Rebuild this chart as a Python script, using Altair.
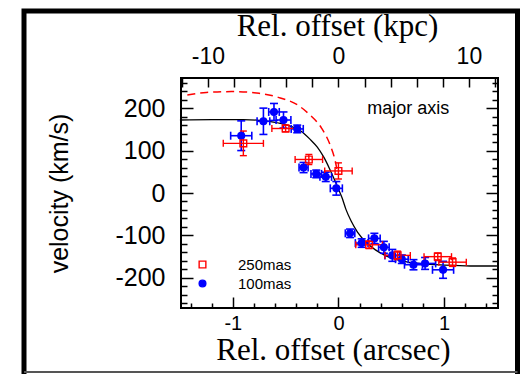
import altair as alt
import pandas as pd

# ---------------- data ----------------
# 100mas (blue filled circles): offset (arcsec), velocity (km/s), errors
b_x    = [-0.92, -0.71, -0.61, -0.52, -0.39, -0.33, -0.21, -0.12, -0.02,
          0.11, 0.22, 0.34, 0.43, 0.51, 0.60, 0.71, 0.82, 0.99]
b_v    = [135, 169, 191, 172, 151, 60, 45, 38, 11,
          -95, -118, -107, -128, -147, -156, -169, -166, -181]
b_xerr = [0.10, 0.06, 0.05, 0.07, 0.057, 0.043, 0.05, 0.055, 0.057,
          0.045, 0.06, 0.055, 0.05, 0.07, 0.06, 0.085, 0.10, 0.10]
b_verr = [35, 31, 20, 19, 9, 12, 9, 11, 16,
          10, 10, 12, 14, 14, 10, 12, 14, 20]

# 250mas (red open squares)
r_x    = [-0.90, -0.50, -0.28, 0.00, 0.29, 0.56, 0.94, 1.08]
r_v    = [117, 152, 79, 52, -122, -147, -150, -163]
r_xerr = [0.19, 0.13, 0.13, 0.13, 0.126, 0.12, 0.13, 0.13]
r_verr = [29, 8, 12, 19, 9, 10, 9, 10]

# model curve (black solid)
m_x = [-1.5, -1.2, -0.9, -0.7, -0.55, -0.45, -0.35, -0.27, -0.2, -0.14, -0.08,
       -0.03, 0.0, 0.035, 0.07, 0.12, 0.18, 0.27, 0.35, 0.45, 0.6, 0.8, 1.0, 1.25, 1.5]
m_v = [172, 173, 173, 170, 164, 157, 145, 127, 108, 85, 55,
       27, 9, -12, -38, -66, -92, -118, -134, -148, -160, -167, -170, -172, -172]

# red dashed curve
d_x = [-1.43, -1.25, -1.0, -0.75, -0.55, -0.39, -0.27, -0.16, -0.08, -0.03, -0.01]
d_v = [231, 237, 239, 235, 224, 208, 184, 153, 114, 75, 50]

series_names = ["250mas", "100mas"]
series_colors = ["#ff0000", "#0000ff"]

# axis ticks
x_major = [-1, 0, 1]
x_minor = [-1.4, -1.2, -0.8, -0.6, -0.4, -0.2, 0.2, 0.4, 0.6, 0.8, 1.2, 1.4]
kpc_ticks = list(range(-12, 13, 2))
KPC_PER_ARCSEC = 8.1
y_major = [-200, -100, 0, 100, 200]
y_minor = [v for v in range(-260, 261, 20) if v % 100 != 0]

XDOM = [-1.49, 1.51]
YDOM = [-271, 271]

# ---------------- tables ----------------
blue = pd.DataFrame({"x": b_x, "v": b_v, "xerr": b_xerr, "verr": b_verr})
red = pd.DataFrame({"x": r_x, "v": r_v, "xerr": r_xerr, "verr": r_verr})
for df in (blue, red):
    df["xlo"] = df["x"] - df["xerr"]
    df["xhi"] = df["x"] + df["xerr"]
    df["vlo"] = df["v"] - df["verr"]
    df["vhi"] = df["v"] + df["verr"]
blue["series"] = "100mas"
red["series"] = "250mas"
pts = pd.concat([blue, red], ignore_index=True)
model = pd.DataFrame({"x": m_x, "v": m_v})
dashed = pd.DataFrame({"x": d_x, "v": d_v})
dummy = pd.DataFrame({"x": [0.0], "v": [0.0]})

xs = alt.Scale(domain=XDOM, nice=False, zero=False)
ys = alt.Scale(domain=YDOM, nice=False, zero=False)

SANS = "Liberation Sans"
SERIF = "Liberation Serif"

def X(field, **kw):
    return alt.X(field + ":Q", scale=xs, axis=None, **kw)

def Y(field, **kw):
    return alt.Y(field + ":Q", scale=ys, axis=None, **kw)

# ---------------- outer frame ----------------
frame = alt.Chart(dummy).mark_rect(fillOpacity=0, stroke="black", strokeWidth=5).encode(
    x=alt.value(-157), x2=alt.value(336.5), y=alt.value(-67), y2=alt.value(302)
)
bottom_line = alt.Chart(dummy).mark_rule(stroke="#555555", strokeWidth=2).encode(
    x=alt.value(-157), x2=alt.value(336.5), y=alt.value(294)
)

# ---------------- curves ----------------
model_line = alt.Chart(model).mark_line(color="black", strokeWidth=1.3, interpolate="monotone").encode(
    x=X("x"), y=Y("v")
)
dash_line = alt.Chart(dashed).mark_line(color="#ff0000", strokeWidth=1.5, strokeDash=[8, 5],
                                        interpolate="monotone").encode(
    x=X("x"), y=Y("v")
)

# ---------------- error bars ----------------
def errbars(df, color, w=1.5, cap=7):
    base = alt.Chart(df)
    h = base.mark_rule(color=color, strokeWidth=w).encode(x=X("xlo"), x2="xhi:Q", y=Y("v"))
    v = base.mark_rule(color=color, strokeWidth=w).encode(x=X("x"), y=Y("vlo"), y2="vhi:Q")
    c1 = base.mark_tick(color=color, orient="vertical", size=cap, thickness=w, opacity=1).encode(x=X("xlo"), y=Y("v"))
    c2 = base.mark_tick(color=color, orient="vertical", size=cap, thickness=w, opacity=1).encode(x=X("xhi"), y=Y("v"))
    c3 = base.mark_tick(color=color, orient="horizontal", size=cap, thickness=w, opacity=1).encode(x=X("x"), y=Y("vlo"))
    c4 = base.mark_tick(color=color, orient="horizontal", size=cap, thickness=w, opacity=1).encode(x=X("x"), y=Y("vhi"))
    return [h, v, c1, c2, c3, c4]

blue_err = errbars(blue, "#0000ff", 1.6, 8)
red_err = errbars(red, "#ff0000", 1.4, 7)

leg = alt.Legend(orient="none", legendX=14, legendY=179, title=None, padding=0,
                 labelFont=SANS, labelFontSize=15, labelColor="black",
                 labelOffset=28, rowPadding=3, symbolSize=45, symbolStrokeWidth=1.4)

points = alt.Chart(pts).mark_point(size=45, strokeWidth=1.4, opacity=1).encode(
    x=X("x"), y=Y("v"),
    shape=alt.Shape("series:N", scale=alt.Scale(domain=series_names, range=["square", "circle"]), legend=leg),
    stroke=alt.Stroke("series:N", scale=alt.Scale(domain=series_names, range=series_colors), legend=leg),
    fill=alt.Fill("series:N", scale=alt.Scale(domain=series_names, range=["transparent", "#0000ff"]), legend=leg),
)

label_df = pd.DataFrame({"x": [0.66], "v": [199], "t": ["major axis"]})
label = alt.Chart(label_df).mark_text(font=SANS, fontSize=18, color="black", align="center",
                                      baseline="middle").encode(x=X("x"), y=Y("v"), text="t:N")

# ---------------- axes (inward ticks) ----------------
common = dict(domain=False, grid=False, tickColor="black", tickWidth=1.5,
              labelColor="black", titleColor="black", labelOverlap=False, labelFlush=False)

def xaxis(orient, values, size, **kw):
    return alt.Chart(dummy).mark_point(opacity=0).encode(
        x=alt.X("x:Q", scale=xs,
                axis=alt.Axis(orient=orient, values=values, tickSize=size, offset=-size, **common, **kw))
    )

def yaxis(orient, values, size, **kw):
    return alt.Chart(dummy).mark_point(opacity=0).encode(
        y=alt.Y("v:Q", scale=ys,
                axis=alt.Axis(orient=orient, values=values, tickSize=size, offset=-size, **common, **kw))
    )

ax_bottom = xaxis("bottom", x_major, 11, title="Rel. offset (arcsec)",
                  labelExpr="'' + datum.value", labelFont=SANS, labelFontSize=20,
                  labelBaseline="alphabetic", labelPadding=21,
                  titleFont=SERIF, titleFontSize=31, titleFontWeight="normal",
                  titleX=152, titleY=62, titleBaseline="alphabetic", titleAlign="center")
ax_bottom_minor = xaxis("bottom", x_minor, 5, labels=False, title=None)

ax_top = xaxis("top", [k / KPC_PER_ARCSEC for k in kpc_ticks], 9, title="Rel. offset (kpc)",
               labelExpr=f"(round(datum.value*{KPC_PER_ARCSEC}) % 10 == 0) ? '' + round(datum.value*{KPC_PER_ARCSEC}) : ''",
               labelFont=SANS, labelFontSize=23, labelBaseline="alphabetic", labelPadding=15,
               titleFont=SERIF, titleFontSize=31, titleFontWeight="normal",
               titleX=156, titleY=-52, titleBaseline="alphabetic", titleAlign="center")

ax_left = yaxis("left", y_major, 12, title="velocity (km/s)",
                labelExpr="'' + datum.value", labelFont=SANS, labelFontSize=25,
                labelPadding=16, labelBaseline="middle",
                titleFont=SANS, titleFontSize=25, titleFontWeight="normal",
                titleX=-134, titleY=115, titleAngle=270, titleBaseline="middle", titleAlign="center")
ax_left_minor = yaxis("left", y_minor, 6, labels=False, title=None)
ax_right = yaxis("right", y_major, 12, labels=False, title=None)
ax_right_minor = yaxis("right", y_minor, 6, labels=False, title=None)

layers = [frame, bottom_line, model_line, dash_line] + blue_err + red_err + [points, label,
          ax_bottom, ax_bottom_minor, ax_top, ax_left, ax_left_minor, ax_right, ax_right_minor]

chart = alt.layer(*layers).resolve_axis(x="independent", y="independent").properties(
    width=317, height=230,
    padding={"left": 181, "top": 78, "right": 22, "bottom": 66},
    autosize=alt.AutoSizeParams(type="none"),
    background="white",
).configure_view(stroke="black", strokeWidth=2)

chart.save("out.html", embed_options={"renderer": "svg", "actions": False})
